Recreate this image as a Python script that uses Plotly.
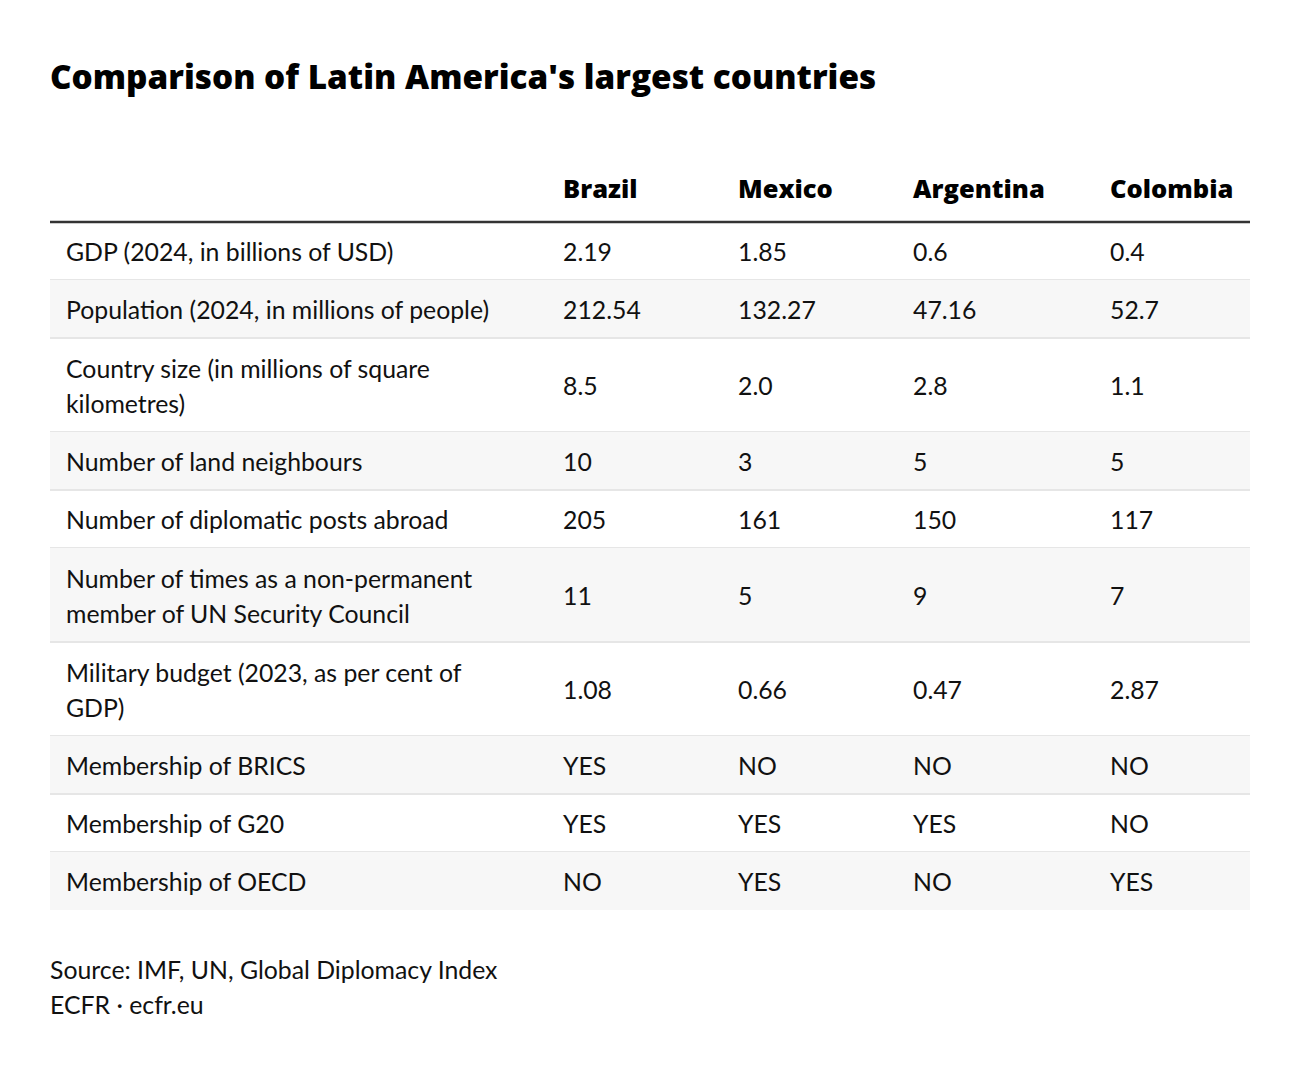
import plotly.graph_objects as go

title = "Comparison of Latin America's largest countries"
countries = ["Brazil", "Mexico", "Argentina", "Colombia"]
indicators = [
    "GDP (2024, in billions of USD)",
    "Population (2024, in millions of people)",
    "Country size (in millions of square<br>kilometres)",
    "Number of land neighbours",
    "Number of diplomatic posts abroad",
    "Number of times as a non-permanent<br>member of UN Security Council",
    "Military budget (2023, as per cent of<br>GDP)",
    "Membership of BRICS",
    "Membership of G20",
    "Membership of OECD",
]
brazil = ["2.19", "212.54", "8.5", "10", "205", "11", "1.08", "YES", "YES", "NO"]
mexico = ["1.85", "132.27", "2.0", "3", "161", "5", "0.66", "NO", "YES", "YES"]
argentina = ["0.6", "47.16", "2.8", "5", "150", "9", "0.47", "NO", "YES", "NO"]
colombia = ["0.4", "52.7", "1.1", "5", "117", "7", "2.87", "NO", "NO", "YES"]
source_lines = ["Source: IMF, UN, Global Diplomacy Index", "ECFR · ecfr.eu"]

columns = [brazil, mexico, argentina, colombia]

# layout geometry (screen pixels; page has an 8px body margin)
W, H = 1300, 1072
OFF = 8
TY = 4  # vertical nudge so text visually centres
left, right = 50, 1250
label_x = 66
col_x = [563, 738, 913, 1110]
header_y = 188
header_line_y = 222
single_h, line_step = 58, 36
text_line_gap = 35

BODY_FONT = "Lato"
HEAD_FONT = "Open Sans"
TXT = "#111111"
BODY_SIZE = 24.8

fig = go.Figure()
shapes = []

y = header_line_y
row_tops = []
row_bottoms = []
for i, lab in enumerate(indicators):
    n = len(lab.split("<br>"))
    h = single_h + (n - 1) * line_step
    row_tops.append(y)
    row_bottoms.append(y + h)
    y += h

for i in range(len(indicators)):
    t, b = row_tops[i], row_bottoms[i]
    if i % 2 == 1:
        shapes.append(dict(type="rect", xref="x", yref="y", x0=left, x1=right, y0=t, y1=b,
                           fillcolor="#f7f7f7", line=dict(width=0), layer="below"))
    if i < len(indicators) - 1:
        shapes.append(dict(type="line", xref="x", yref="y", x0=left, x1=right, y0=b, y1=b,
                           line=dict(color="#e6e6e6", width=2), layer="below"))

shapes.append(dict(type="line", xref="x", yref="y", x0=left, x1=right,
                   y0=header_line_y, y1=header_line_y, line=dict(color="#333333", width=2.5)))

lx, ly, lt = [], [], []
for i, lab in enumerate(indicators):
    parts = lab.split("<br>")
    c = (row_tops[i] + row_bottoms[i]) / 2 + TY
    n = len(parts)
    for k, p in enumerate(parts):
        lx.append(label_x)
        ly.append(c + (k - (n - 1) / 2) * text_line_gap)
        lt.append(p)
fig.add_trace(go.Scatter(x=lx, y=ly, text=lt, mode="text", textposition="middle right",
                         textfont=dict(family=BODY_FONT, size=BODY_SIZE, color=TXT),
                         hoverinfo="skip", showlegend=False))

for j, vals in enumerate(columns):
    ys = [(row_tops[i] + row_bottoms[i]) / 2 + TY for i in range(len(vals))]
    fig.add_trace(go.Scatter(x=[col_x[j]] * len(vals), y=ys, text=vals, mode="text",
                             textposition="middle right",
                             textfont=dict(family=BODY_FONT, size=BODY_SIZE, color=TXT),
                             hoverinfo="skip", showlegend=False))

fig.add_trace(go.Scatter(x=col_x, y=[header_y + TY] * len(countries), text=countries, mode="text",
                         textposition="middle right",
                         textfont=dict(family=HEAD_FONT, size=25.5, color="#000000", weight=800),
                         hoverinfo="skip", showlegend=False))

fig.add_trace(go.Scatter(x=[50], y=[77 + TY], text=[title], mode="text", textposition="middle right",
                         textfont=dict(family=HEAD_FONT, size=33.3, color="#000000", weight=800),
                         hoverinfo="skip", showlegend=False))

fig.add_trace(go.Scatter(x=[50, 50], y=[969 + TY, 1004 + TY], text=source_lines, mode="text",
                         textposition="middle right",
                         textfont=dict(family=BODY_FONT, size=BODY_SIZE, color=TXT),
                         hoverinfo="skip", showlegend=False))

fig.update_layout(
    width=W, height=H,
    margin=dict(l=0, r=0, t=0, b=0),
    paper_bgcolor="white", plot_bgcolor="white",
    shapes=shapes,
    xaxis=dict(range=[OFF, W + OFF], visible=False, fixedrange=True),
    yaxis=dict(range=[H + OFF, OFF], visible=False, fixedrange=True),
)

fig.write_html("out.html")
